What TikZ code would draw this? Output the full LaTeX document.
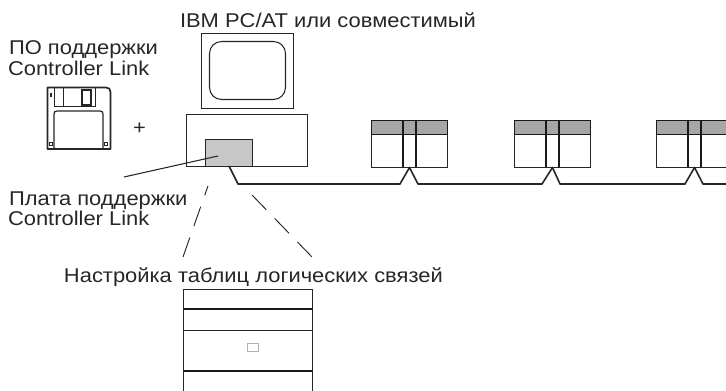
\documentclass[tikz,border=0pt]{standalone}
\usepackage{fontspec}
\setmainfont[FakeStretch=1.1]{Liberation Sans}
\usetikzlibrary{positioning}

\begin{document}
\begin{tikzpicture}[x=.75pt,y=-.75pt,
   every node/.style={inner sep=0pt,outer sep=0pt},
   label text/.style={font=\fontsize{14.95pt}{19pt}\selectfont,text=black!85,align=left,anchor=base west},
   box/.style 2 args={draw=black!85,line width=.8pt,anchor=north west,minimum width=#1*.75pt,minimum height=#2*.75pt},
   header/.style={draw=black!90,line width=1pt,fill=black!35,anchor=north west,minimum width=76*.75pt,minimum height=14*.75pt},
   link/.style={draw=black!85,line width=1.2pt,line join=round},
   divider/.style={draw=black!90,line width=1.5pt},
   disk line/.style={draw=black!85,line width=1.2pt},
   table link/.style={draw=black!85,line width=.7pt,dash pattern=on 15.5pt off 9pt}]
\useasboundingbox (0,0) rectangle (726,391);
\clip (0,0) rectangle (726,391);
% labels
\node[label text] (pcText) at (180,28) {IBM PC/AT или совместимый};
\node[label text] (softText) at (9,55) {ПО поддержки};
\node[label text] (softText2) at (8,76) {Controller Link};
\node[label text] (boardText) at (9,206) {Плата поддержки};
\node[label text] (boardText2) at (8,226) {Controller Link};
\node[label text] (tableText) at (64,283) {Настройка таблиц логических связей};
\node[label text,anchor=center] (plus) at (139.5,128.5) {+};
% computer
\node[box={92}{75}] (monitor) at (201.5,33.5) {};
\node[box={76}{58},rounded corners=9pt] (screen) at (209.5,41.5) {};
\node[box={121}{52}] (base) at (186.5,114.5) {};
\node[box={47}{27},fill=black!22] (board) at (205.5,139.5) {};
\coordinate (boardPt) at (218,156);
\coordinate (boardEnd) at (124,177);
\draw[draw=black!85,line width=.8pt] (boardPt) -- (boardEnd);
% floppy
\draw[disk line,line join=round] (47.5,87.5) -- (106,87.5)
   .. controls (109,87.5) and (110.5,89) .. (110.5,92) -- (110.5,149) -- (47.5,149) -- cycle;
\draw[draw=black!85,line width=.7pt] (54,88) -- (54,106.5) -- (95.5,106.5) -- (95.5,88);
\draw[draw=black!85,line width=.7pt] (63,88) -- (63,106.5);
\node[box={9}{15}] (slot) at (82,90) {};
\draw[disk line,line width=.9pt] (54,149) -- (54,114) .. controls (54,112) and (55,111) .. (57,111)
   -- (100,111) .. controls (102,111) and (103,112) .. (103,114) -- (103,149);
\node[box={3}{3},line width=.6pt] (holeA) at (49.5,142) {};
\node[box={3}{3},line width=.6pt] (holeB) at (104.5,142) {};
\node[fill=black!85,minimum width=2.2pt,minimum height=3.5pt] (notch) at (51,95) {};
% controllers
\foreach \name/\xpos in {plcA/371.5,plcB/514.5,plcC/656.5} {
   \node[box={76}{47}] (\name) at (\xpos,120.5) {};
   \node[header] (\name Top) at (\xpos,120.5) {};
   \coordinate (\name TL) at (\xpos+31,120.5);
   \coordinate (\name BL) at (\xpos+31,167.5);
   \coordinate (\name TR) at (\xpos+44,120.5);
   \coordinate (\name BR) at (\xpos+44,167.5);
   \draw[divider] (\name TL) -- (\name BL);
   \draw[divider] (\name TR) -- (\name BR);
}
% cable
\coordinate (start) at (229,166);
\coordinate (bend) at (238,184);
\coordinate (cableEnd) at (726,184);
\draw[link] (start) -- (bend)
   -- (400,184) -- (plcA.south) -- (418,184)
   -- (542,184) -- (plcB.south) -- (560,184)
   -- (685,184) -- (plcC.south) -- (703,184) -- (cableEnd);
% dashed lines down to the table
\coordinate (dashLA) at (208,186);
\coordinate (dashLB) at (183,257);
\coordinate (dashRA) at (252,195);
\coordinate (dashRB) at (312,257);
\draw[table link] (dashLB) -- (dashLA);
\draw[table link] (dashRA) -- (dashRB);
% unit
\node[box={129}{102}] (unit) at (183.5,289.5) {};
\coordinate (rowAL) at (183.5,309.5);
\coordinate (rowAR) at (312.5,309.5);
\coordinate (rowBL) at (183.5,330.5);
\coordinate (rowBR) at (312.5,330.5);
\coordinate (rowCL) at (183.5,371);
\coordinate (rowCR) at (312.5,371);
\draw[divider] (rowAL) -- (rowAR);
\draw[draw=black!85,line width=1pt] (rowBL) -- (rowBR);
\draw[divider] (rowCL) -- (rowCR);
\node[box={11}{8},draw=black!30,line width=.6pt] (lamp) at (247.5,343.5) {};
\end{tikzpicture}
\end{document}
